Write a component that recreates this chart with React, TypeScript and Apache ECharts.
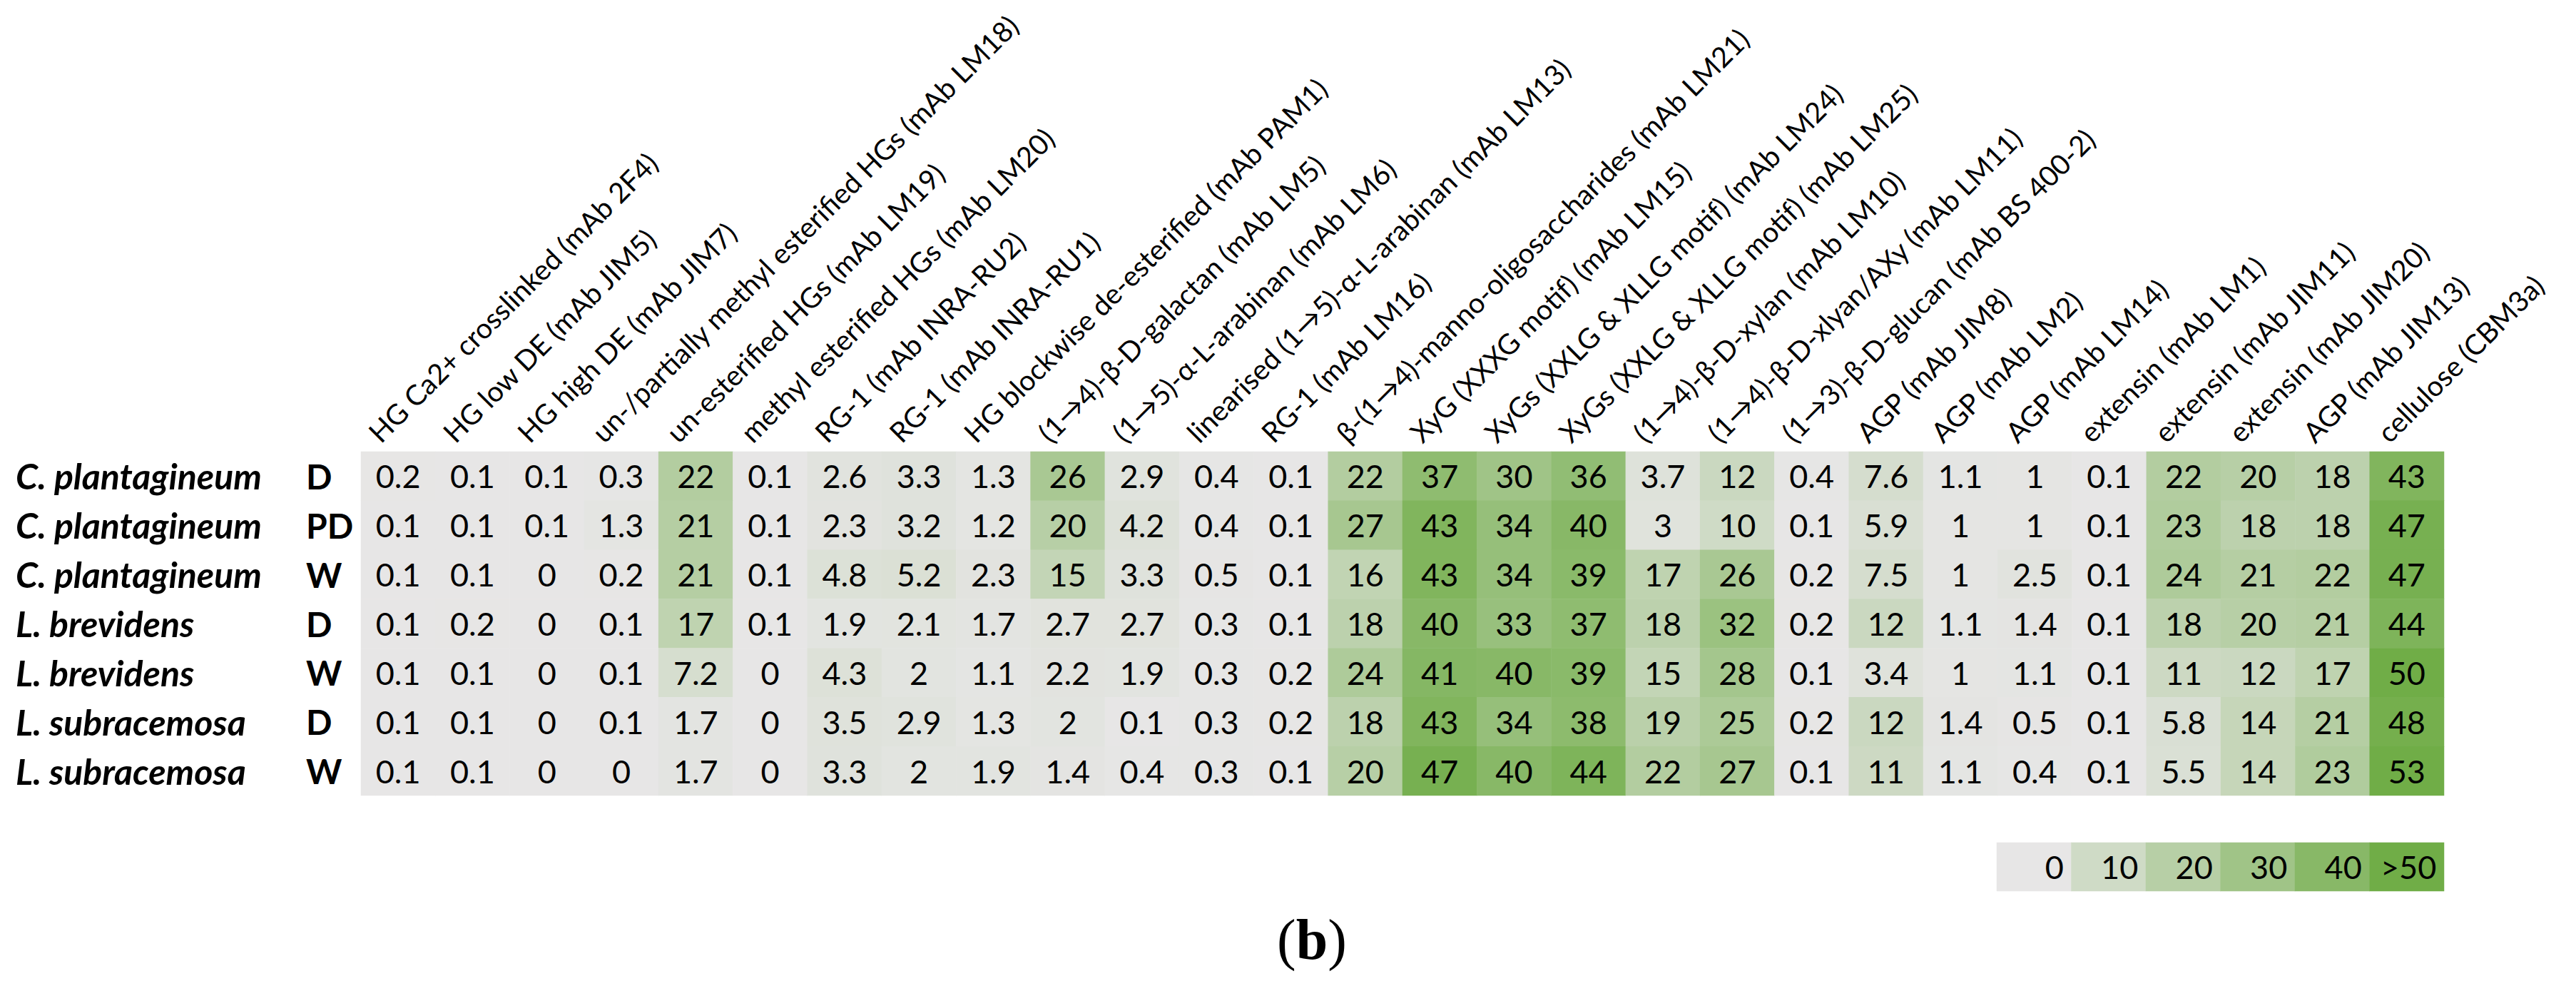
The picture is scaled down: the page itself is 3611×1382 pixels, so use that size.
import React, { useEffect, useRef } from "react";
import * as echarts from "echarts";

const rowSpecies = ["C. plantagineum", "C. plantagineum", "C. plantagineum", "L. brevidens", "L. brevidens", "L. subracemosa", "L. subracemosa"];
const rowStatus = ["D", "PD", "W", "D", "W", "D", "W"];

const columns = [
  "HG Ca2+ crosslinked (mAb 2F4)",
  "HG low DE (mAb JIM5)",
  "HG high DE (mAb JIM7)",
  "un-/partially methyl esterified HGs (mAb LM18)",
  "un-esterified HGs (mAb LM19)",
  "methyl esterified HGs (mAb LM20)",
  "RG-1 (mAb INRA-RU2)",
  "RG-1 (mAb INRA-RU1)",
  "HG blockwise de-esterified (mAb PAM1)",
  "(1→4)-β-D-galactan (mAb LM5)",
  "(1→5)-α-L-arabinan (mAb LM6)",
  "linearised (1→5)-α-L-arabinan (mAb LM13)",
  "RG-1 (mAb LM16)",
  "β-(1→4)-manno-oligosaccharides (mAb LM21)",
  "XyG (XXXG motif) (mAb LM15)",
  "XyGs (XXLG & XLLG motif) (mAb LM24)",
  "XyGs (XXLG & XLLG motif) (mAb LM25)",
  "(1→4)-β-D-xylan (mAb LM10)",
  "(1→4)-β-D-xlyan/AXy (mAb LM11)",
  "(1→3)-β-D-glucan (mAb BS 400-2)",
  "AGP (mAb JIM8)",
  "AGP (mAb LM2)",
  "AGP (mAb LM14)",
  "extensin (mAb LM1)",
  "extensin (mAb JIM11)",
  "extensin (mAb JIM20)",
  "AGP (mAb JIM13)",
  "cellulose (CBM3a)",
];

const cPlantagineumD = [0.2, 0.1, 0.1, 0.3, 22, 0.1, 2.6, 3.3, 1.3, 26, 2.9, 0.4, 0.1, 22, 37, 30, 36, 3.7, 12, 0.4, 7.6, 1.1, 1, 0.1, 22, 20, 18, 43];
const cPlantagineumPD = [0.1, 0.1, 0.1, 1.3, 21, 0.1, 2.3, 3.2, 1.2, 20, 4.2, 0.4, 0.1, 27, 43, 34, 40, 3, 10, 0.1, 5.9, 1, 1, 0.1, 23, 18, 18, 47];
const cPlantagineumW = [0.1, 0.1, 0, 0.2, 21, 0.1, 4.8, 5.2, 2.3, 15, 3.3, 0.5, 0.1, 16, 43, 34, 39, 17, 26, 0.2, 7.5, 1, 2.5, 0.1, 24, 21, 22, 47];
const lBrevidensD = [0.1, 0.2, 0, 0.1, 17, 0.1, 1.9, 2.1, 1.7, 2.7, 2.7, 0.3, 0.1, 18, 40, 33, 37, 18, 32, 0.2, 12, 1.1, 1.4, 0.1, 18, 20, 21, 44];
const lBrevidensW = [0.1, 0.1, 0, 0.1, 7.2, 0, 4.3, 2, 1.1, 2.2, 1.9, 0.3, 0.2, 24, 41, 40, 39, 15, 28, 0.1, 3.4, 1, 1.1, 0.1, 11, 12, 17, 50];
const lSubracemosaD = [0.1, 0.1, 0, 0.1, 1.7, 0, 3.5, 2.9, 1.3, 2, 0.1, 0.3, 0.2, 18, 43, 34, 38, 19, 25, 0.2, 12, 1.4, 0.5, 0.1, 5.8, 14, 21, 48];
const lSubracemosaW = [0.1, 0.1, 0, 0, 1.7, 0, 3.3, 2, 1.9, 1.4, 0.4, 0.3, 0.1, 20, 47, 40, 44, 22, 27, 0.1, 11, 1.1, 0.4, 0.1, 5.5, 14, 23, 53];

const rowValues = [cPlantagineumD, cPlantagineumPD, cPlantagineumW, lBrevidensD, lBrevidensW, lSubracemosaD, lSubracemosaW];

const legendValues = [0, 10, 20, 30, 40, 50];
const legendLabels = ["0", "10", "20", "30", "40", ">50"];

export default function App() {
  const ref = useRef<HTMLDivElement>(null);

  useEffect(() => {
    document.body.style.margin = "0";
    if (!ref.current) return;
    const chart = echarts.init(ref.current, null, { renderer: "svg" });

    const rowNames = rowSpecies.map((s, i) => s + " " + rowStatus[i]);
    const heatData: any[] = [];
    rowValues.forEach((row, r) => row.forEach((v, c) => heatData.push([c, r, v])));
    const legendData = legendValues.map((v, i) => [i, 0, v]);

    const option: any = {
      animation: false,
      textStyle: { fontFamily: "Lato" },
      title: {
        text: "{p|(}{b|b}{p|)}",
        left: 1785,
        top: 1272,
        textStyle: {
          rich: {
            p: { fontFamily: "Liberation Serif", fontSize: 80, fontWeight: "normal", color: "#000" },
            b: { fontFamily: "Liberation Serif", fontSize: 80, fontWeight: "bold", color: "#000" },
          },
        },
      },
      grid: [
        { left: 506, top: 633, width: 2920, height: 482 },
        { left: 2799, top: 1181, width: 627, height: 68 },
        { left: 471, top: 633, width: 2920, height: 1 },
      ],
      xAxis: [
        { type: "category", gridIndex: 0, data: columns, show: false },
        { type: "category", gridIndex: 1, data: legendLabels, show: false },
        {
          type: "category",
          gridIndex: 2,
          data: columns,
          position: "top",
          axisLine: { show: false },
          axisTick: { show: false },
          splitLine: { show: false },
          axisLabel: { interval: 0, rotate: 45, margin: 21, fontSize: 39.5, color: "#000", fontFamily: "Lato" },
        },
      ],
      yAxis: [
        {
          type: "category",
          gridIndex: 0,
          data: rowNames,
          inverse: true,
          axisLine: { show: false },
          axisTick: { show: false },
          splitLine: { show: false },
          axisLabel: {
            align: "left",
            margin: 484,
            formatter: (_v: string, i: number) => `{sp|${rowSpecies[i]}}{st|${rowStatus[i]}}`,
            rich: {
              sp: { width: 407, fontSize: 50, fontWeight: "bold", fontStyle: "italic", color: "#000", fontFamily: "Lato" },
              st: { fontSize: 48, fontWeight: "bold", color: "#000", fontFamily: "Lato" },
            },
          },
        },
        { type: "category", gridIndex: 1, data: ["legend"], show: false },
        { type: "value", gridIndex: 2, show: false },
      ],
      visualMap: {
        show: false,
        type: "continuous",
        min: 0,
        max: 50,
        seriesIndex: [0, 1],
        dimension: 2,
        inRange: { color: ["#E7E6E6", "#70AD47"] },
      },
      series: [
        {
          type: "heatmap",
          xAxisIndex: 0,
          yAxisIndex: 0,
          data: heatData,
          label: {
            show: true,
            fontSize: 45,
            color: "#000",
            fontFamily: "Lato",
            formatter: (p: any) => String(p.value[2]),
          },
          itemStyle: { borderWidth: 0 },
          emphasis: { disabled: true },
        },
        {
          type: "heatmap",
          xAxisIndex: 1,
          yAxisIndex: 1,
          data: legendData,
          label: {
            show: true,
            position: "insideRight",
            distance: 11,
            fontSize: 45,
            color: "#000",
            fontFamily: "Lato",
            formatter: (p: any) => legendLabels[p.value[0]],
          },
          itemStyle: { borderWidth: 0 },
          emphasis: { disabled: true },
        },
      ],
    };

    chart.setOption(option);
    return () => chart.dispose();
  }, []);

  return <div ref={ref} style={{ width: 3611, height: 1382 }} />;
}
